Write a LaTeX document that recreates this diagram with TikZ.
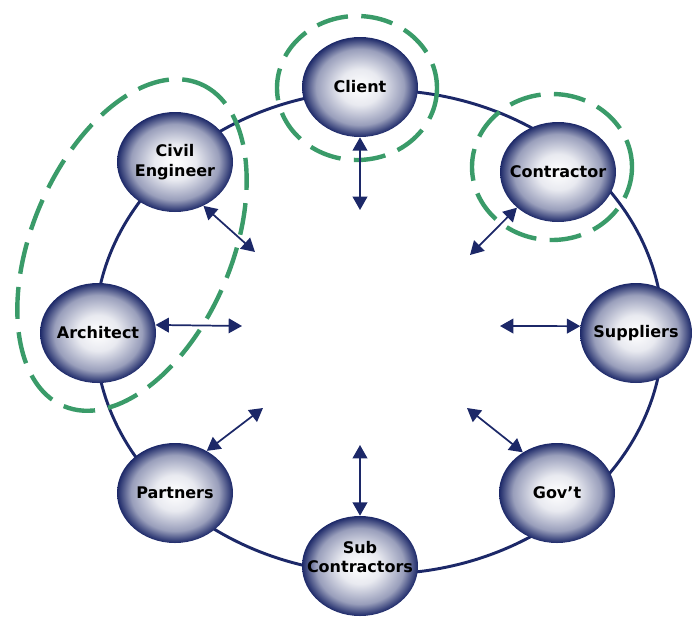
\documentclass[tikz,border=0pt]{standalone}
\usepackage{fontspec}
\setsansfont{DejaVu Sans}
\usetikzlibrary{arrows.meta,shapes.geometric}

\definecolor{ringblue}{HTML}{1C2868}
\definecolor{groupgreen}{HTML}{3A9B69}

% white centre fading out to the ring colour
\pgfdeclareradialshading{ball}{\pgfpoint{0bp}{0bp}}{%
  color(0bp)=(white); color(9bp)=(white!90!ringblue);
  color(19bp)=(ringblue!45!white); color(25bp)=(ringblue); color(50bp)=(ringblue)}

\begin{document}
\begin{tikzpicture}[x=0.75pt, y=-0.75pt,
    party/.style={ellipse, minimum width=87pt, minimum height=75pt,
      inner xsep=-12pt, inner ysep=0pt,
      shading=ball, align=center,
      font=\sffamily\bfseries\fontsize{12}{14.5}\selectfont},
    link/.style={ringblue, line width=1.3pt,
      {Triangle[length=10pt,width=11pt]}-{Triangle[length=10pt,width=11pt]}},
    group/.style={groupgreen, line width=3.3pt, dash pattern=on 24pt off 10pt}]
    \useasboundingbox (0,0) rectangle (693,618);

    % Ring joining the parties
    \draw[ringblue, line width=2.2pt] (379,332) ellipse [x radius=284, y radius=242];

    % Groupings
    \draw[group] (357,88) ellipse [x radius=80, y radius=72];
    \draw[group] (552,167) ellipse [x radius=80, y radius=73];
    \draw[group, rotate around={67:(132,245)}] (132,245) ellipse [x radius=175, y radius=100];

    % Parties
    \node[party] (client)   at (360,87)  {Client};
    \node[party] (civil)    at (175,162) {Civil\\Engineer};
    \node[party] (arch)     at (98,333)  {Architect};
    \node[party] (contr)    at (558,172) {Contractor};
    \node[party, minimum width=84pt] (supp) at (636,333) {Suppliers};
    \node[party] (partners) at (175,493) {Partners};
    \node[party] (govt)     at (557,493) {Gov’t};
    \node[party, text depth=14pt] (sub) at (360,566) {Sub\\Contractors};

    % Inner ends of the links
    \coordinate (clientIn)   at (360,210);
    \coordinate (civilIn)    at (255,252);
    \coordinate (archIn)     at (242,326);
    \coordinate (contrIn)    at (470,255);
    \coordinate (suppIn)     at (500,326);
    \coordinate (govtIn)     at (467,408);
    \coordinate (subIn)      at (360,445);
    \coordinate (partnersIn) at (263,408);

    % Links
    \draw[link] (client.south)  -- (clientIn);
    \draw[link] (civil.-57)     -- (civilIn);
    \draw[link] (arch.8)        -- (archIn);
    \draw[link] (contr.-139)    -- (contrIn);
    \draw[link] (supp.173)      -- (suppIn);
    \draw[link] (govt.130)      -- (govtIn);
    \draw[link] (sub.north)     -- (subIn);
    \draw[link] (partners.53)   -- (partnersIn);
\end{tikzpicture}
\end{document}
